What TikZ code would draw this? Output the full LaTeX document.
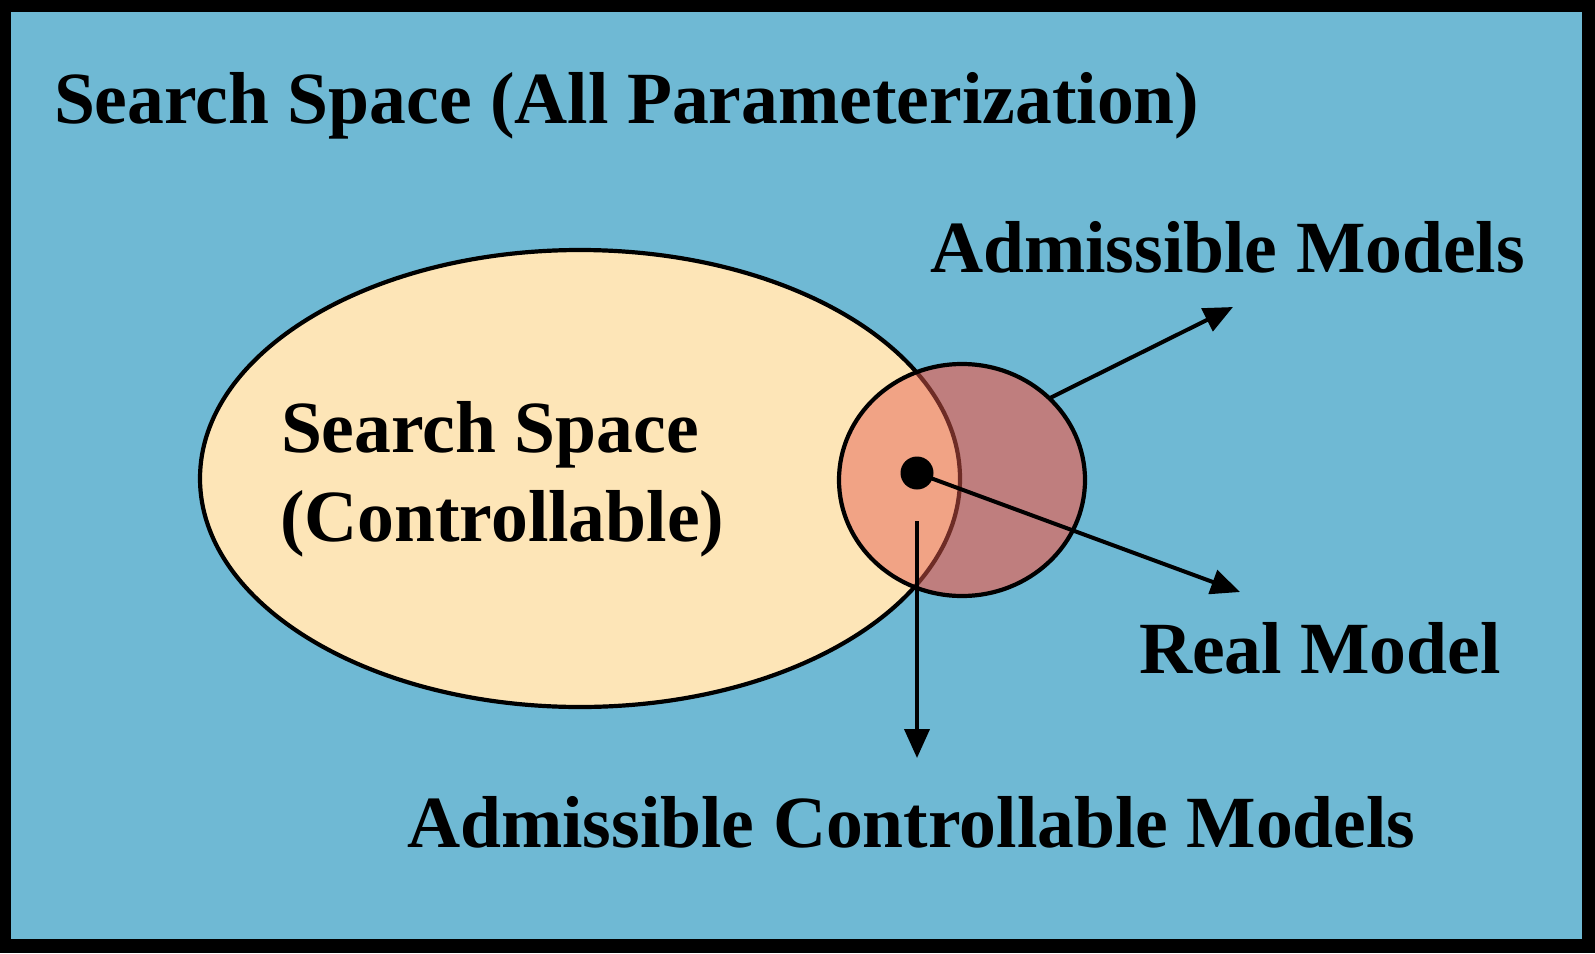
\documentclass[tikz,border=0pt]{standalone}
\usepackage{fontspec}
\setmainfont{Liberation Serif}
\usetikzlibrary{arrows.meta}
\definecolor{bgblue}{RGB}{111,185,212}
\definecolor{ssyellow}{RGB}{253,229,183}
\definecolor{amout}{RGB}{191,126,126}
\definecolor{amin}{RGB}{241,163,133}
\definecolor{edgebrown}{RGB}{110,44,38}
\tikzset{
  lbl/.style={anchor=base west, inner sep=0pt, outer sep=0pt, font=\bfseries\fontsize{73.6}{90}\selectfont},
  shapeline/.style={line width=4.2pt, draw=black},
  arr/.style={line width=4pt, -{Triangle[length=29pt, width=25pt]}},
}
\begin{document}
\begin{tikzpicture}[x=1pt, y=-1pt]
\useasboundingbox (0,0) rectangle (1595,953);
% frame
\fill[black] (0,0) rectangle (1595,953);
\fill[bgblue] (11,12) rectangle (1582,939);
% big ellipse
\filldraw[fill=ssyellow, shapeline] (580,478.5) ellipse [x radius=380, y radius=228.5];
\coordinate (ssc) at (580,478.5);
% small circle
\coordinate (amc) at (962,480);
\fill[amout] (amc) ellipse [x radius=123, y radius=116];
\begin{scope}
  \clip (ssc) ellipse [x radius=380, y radius=228.5];
  \fill[amin] (amc) ellipse [x radius=123, y radius=116];
\end{scope}
\begin{scope}
  \clip (amc) ellipse [x radius=123, y radius=116];
  \draw[edgebrown, line width=4.2pt] (ssc) ellipse [x radius=380, y radius=228.5];
\end{scope}
\draw[shapeline] (amc) ellipse [x radius=123, y radius=116];
% real model dot
\node[circle, fill=black, inner sep=0pt, minimum size=33pt] (dot) at (917,473) {};
% labels
\node[lbl] (title) at (54,123) {Search Space (All Parameterization)};
\node[lbl] (ss1) at (281,452) {Search Space};
\node[lbl] (ss2) at (280,541) {(Controllable)};
\node[lbl] (adm) at (930,272) {Admissible Models};
\node[lbl] (real) at (1139,673) {Real Model};
\node[lbl] (acm) at (407,847) {Admissible Controllable Models};
% arrow anchors
\coordinate (admstart) at (1050,398);
\coordinate (admtip) at (1233,307);
\coordinate (realtip) at (1240,592);
\coordinate (acmstart) at (917,521);
\coordinate (acmtip) at (917,758);
\draw[arr] (admstart) -- (admtip);
\draw[arr] (dot.center) -- (realtip);
\draw[arr] (acmstart) -- (acmtip);
\end{tikzpicture}
\end{document}
